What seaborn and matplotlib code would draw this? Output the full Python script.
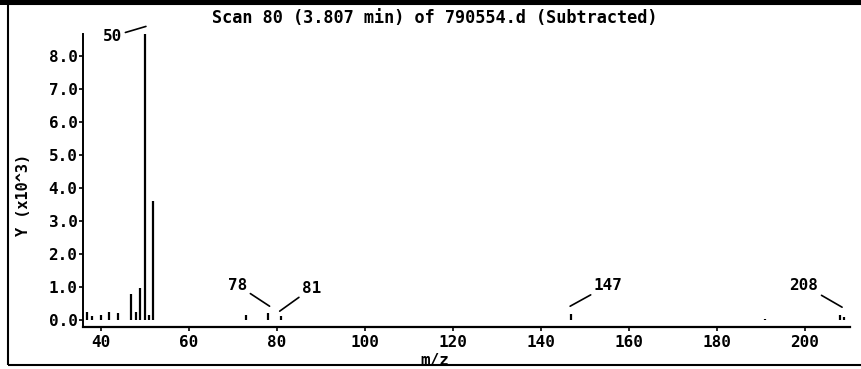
import numpy as np
import pandas as pd
import seaborn as sns
import matplotlib.pyplot as plt
from matplotlib.patches import Rectangle

# peak list (intensity in thousands)
mz = [37, 38, 40, 42, 44, 47, 48, 49, 50, 51, 52, 73, 78, 81, 147, 191, 208, 209]
intensity = [0.25, 0.12, 0.15, 0.25, 0.20, 0.78, 0.25, 0.97, 8.66, 0.15, 3.60,
             0.15, 0.20, 0.12, 0.18, 0.03, 0.15, 0.08]

# labelled peaks: (label, peak tip, text position)
label_text = ['50', '78', '81', '147', '208']
label_tip_x = [50.3, 78.4, 80.7, 146.7, 208.5]
label_tip_y = [8.90, 0.42, 0.27, 0.42, 0.39]
label_txt_x = [42.7, 71.1, 88.0, 155.4, 199.8]
label_txt_y = [8.60, 1.06, 0.97, 1.06, 1.06]

yticks = [0, 1, 2, 3, 4, 5, 6, 7, 8]
xticks = [40, 60, 80, 100, 120, 140, 160, 180, 200]

sns.set_style('ticks')
plt.rcParams['font.family'] = ['DejaVu Sans Mono', 'DejaVu Sans']
plt.rcParams['font.weight'] = 'bold'
# plain black, like the instrument printout
for key in ['text.color', 'axes.labelcolor', 'xtick.color', 'ytick.color', 'axes.edgecolor']:
    plt.rcParams[key] = 'black'

df = pd.DataFrame({'mz': mz, 'intensity': intensity})

fig = plt.figure(figsize=(8.61, 3.69), dpi=100)
ax = fig.add_axes([83 / 861, (369 - 327) / 369, (850 - 83) / 861, (327 - 34) / 369])

ax.vlines(df['mz'], 0, df['intensity'], color='black', lw=1.6, clip_on=False)

for t, tx, ty, px, py in zip(label_text, label_txt_x, label_txt_y, label_tip_x, label_tip_y):
    ax.annotate(t, xy=(px, py), xytext=(tx, ty), ha='center', va='center',
                fontsize=11.5, fontweight='bold',
                arrowprops=dict(arrowstyle='-', color='black', lw=1.2,
                                shrinkA=0, shrinkB=0),
                annotation_clip=False)

ax.set_xlim(36, 210.3)
ax.set_ylim(-0.21, 8.67)
ax.set_xticks(xticks)
ax.set_yticks(yticks)
ax.set_yticklabels([f'{v:.1f}' for v in yticks])
ax.tick_params(axis='both', labelsize=11.5, length=3, width=1.2, color='black')
ax.tick_params(axis='x', pad=3)
ax.tick_params(axis='y', pad=1)
for lab in ax.get_xticklabels() + ax.get_yticklabels():
    lab.set_fontweight('bold')
sns.despine(ax=ax)
ax.spines['left'].set_linewidth(1.4)
ax.spines['bottom'].set_linewidth(1.6)

ax.set_xlabel('m/z', fontsize=11.5, fontweight='bold')
ax.xaxis.set_label_coords(0.459, -0.09)
ax.set_ylabel('Y (x10^3)', fontsize=11, fontweight='bold')
ax.yaxis.set_label_coords(-0.068, 0.45)

ax.set_title('Scan 80 (3.807 min) of 790554.d (Subtracted)', fontsize=12.2,
             fontweight='bold', x=0.459, y=1.037, pad=0)

# page frame and header band
fig.patches.append(Rectangle((8 / 861, 4 / 369), 1.2, (365 - 4) / 369, transform=fig.transFigure,
                             fill=False, edgecolor='black', lw=1.5))
fig.patches.append(Rectangle((0, 1 - 5 / 369), 1, 5 / 369, transform=fig.transFigure,
                             facecolor='black', edgecolor='none'))

fig.savefig('out.png', dpi=100)
